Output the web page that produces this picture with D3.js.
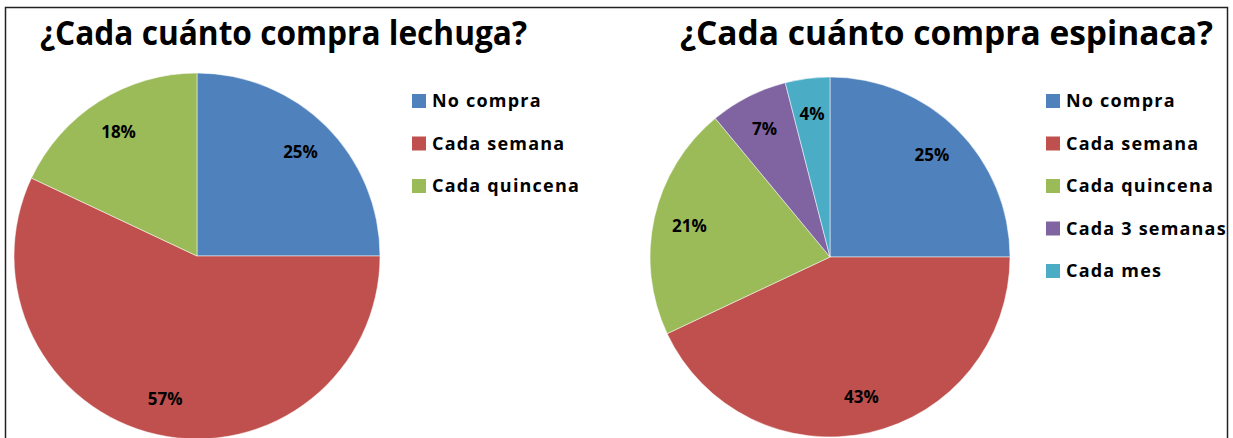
<!DOCTYPE html>
<html>
<head>
<meta charset="utf-8">
<script src="https://cdn.jsdelivr.net/npm/d3@7"></script>
<style>
  body { margin: 0; background: #fff; }
  svg text { font-family: "Open Sans", "Noto Sans", sans-serif; font-weight: bold; fill: #000; }
</style>
</head>
<body>
<svg id="chart" width="1233" height="438"></svg>
<script>
// lechuga
const lechugaCats = ["No compra", "Cada semana", "Cada quincena"];
const lechugaVals = [25, 57, 18];
// espinaca
const espinacaCats = ["No compra", "Cada semana", "Cada quincena", "Cada 3 semanas", "Cada mes"];
const espinacaVals = [25, 43, 21, 7, 4];

const titles = ["¿Cada cuánto compra lechuga?", "¿Cada cuánto compra espinaca?"];
const palette = ["#4F81BD", "#C0504D", "#9BBB59", "#8064A2", "#4BACC6"];

const svg = d3.select("#chart");

// frame
svg.append("rect")
    .attr("x", 5.5).attr("y", 7.5)
    .attr("width", 1222).attr("height", 440)
    .attr("fill", "none").attr("stroke", "#222").attr("stroke-width", 1.5);

const charts = [
    { cats: lechugaCats, vals: lechugaVals, title: titles[0], cx: 197, cy: 256, r: 183, tx: 40, tw: 487, lx: 412 },
    { cats: espinacaCats, vals: espinacaVals, title: titles[1], cx: 830, cy: 257, r: 180, tx: 680, tw: 533, lx: 1046 }
];

const pie = d3.pie().sort(null).value(d => d);

charts.forEach(c => {
    const g = svg.append("g");

    g.append("text")
        .attr("x", c.tx).attr("y", 45)
        .attr("font-size", 34)
        .attr("textLength", c.tw)
        .attr("lengthAdjust", "spacingAndGlyphs")
        .text(c.title);

    const arc = d3.arc().innerRadius(0).outerRadius(c.r);
    const labelArc = d3.arc().innerRadius(c.r * 0.8).outerRadius(c.r * 0.8);
    const color = d3.scaleOrdinal().domain(c.cats).range(palette);
    const arcs = pie(c.vals);

    const pg = g.append("g").attr("transform", `translate(${c.cx},${c.cy})`);
    pg.selectAll("path")
        .data(arcs).enter()
        .append("path")
        .attr("d", arc)
        .attr("fill", (d, i) => color(c.cats[i]))
        .attr("stroke", "#fff")
        .attr("stroke-opacity", 0.5)
        .attr("stroke-width", 1);

    pg.selectAll("text")
        .data(arcs).enter()
        .append("text")
        .attr("transform", d => `translate(${labelArc.centroid(d)})`)
        .attr("text-anchor", "middle")
        .attr("dy", "0.35em")
        .attr("font-size", 17)
        .text(d => d.data + "%");

    // legend
    const lg = g.selectAll(".leg")
        .data(c.cats).enter()
        .append("g")
        .attr("transform", (d, i) => `translate(${c.lx},${101 + i * 42.5})`);
    lg.append("rect")
        .attr("x", 0).attr("y", -7)
        .attr("width", 14).attr("height", 14)
        .attr("fill", d => color(d));
    lg.append("text")
        .attr("x", 20).attr("dy", "0.35em")
        .attr("font-size", 18)
        .attr("letter-spacing", 1.2)
        .text(d => d);
});
</script>
</body>
</html>
